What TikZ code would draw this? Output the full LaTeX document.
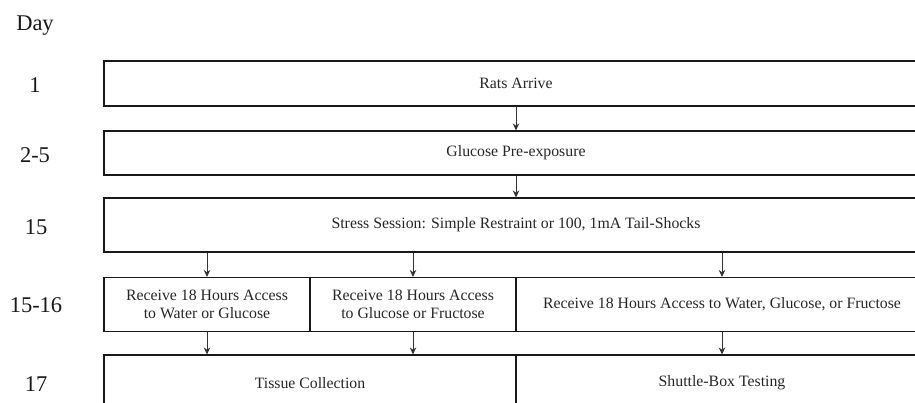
\documentclass[tikz,border=0pt]{standalone}
\usepackage{fontspec}
\setmainfont{Liberation Serif}
\usetikzlibrary{arrows.meta}
\begin{document}
\begin{tikzpicture}[x=1pt,y=-1pt,
  daylbl/.style={font=\fontsize{22.5}{24}\selectfont, text=black!90},
  stagebox/.style={draw=black!90, line width=1.1pt, rectangle, inner sep=0pt,
    font=\fontsize{15.8}{18.5}\selectfont, text=black!85, align=center},
  flow/.style={draw=black!80, line width=0.8pt, -{Stealth[length=7pt,width=6.5pt]}}]
\useasboundingbox (0,0) rectangle (915,403);
\clip (0,0) rectangle (915,403);
% day labels
\node[daylbl] (d0) at (35,26) {Day};
\node[daylbl] (d1) at (35,85) {1};
\node[daylbl] (d2) at (35,155) {2-5};
\node[daylbl] (d3) at (36,227) {15};
\node[daylbl] (d4) at (36,305) {15-16};
\node[daylbl] (d5) at (36,384) {17};
% boxes
\node[stagebox, minimum width=824pt, minimum height=45pt] (r1) at (516,83.5) {Rats Arrive};
\node[stagebox, minimum width=824pt, minimum height=44pt] (r2) at (516,153) {Glucose Pre-exposure};
\node[stagebox, minimum width=824pt, minimum height=54pt] (r3) at (516,225) {Stress Session: Simple Restraint or 100, 1mA Tail-Shocks};
\node[stagebox, minimum width=206pt, minimum height=54pt] (r4a) at (207,304.5) {Receive 18 Hours Access\\to Water or Glucose};
\node[stagebox, minimum width=206pt, minimum height=54pt] (r4b) at (413,304.5) {Receive 18 Hours Access\\to Glucose or Fructose};
\node[stagebox, minimum width=412pt, minimum height=54pt] (r4c) at (722,304.5) {Receive 18 Hours Access to Water, Glucose, or Fructose};
\node[stagebox, minimum width=412pt, minimum height=56pt] (r5a) at (310,383) {Tissue Collection};
\node[stagebox, minimum width=412pt, minimum height=56pt] (r5b) at (722,383) {Shuttle-Box Testing};
% arrows
\draw[flow] (r1) -- (r2);
\draw[flow] (r2) -- (r3);
\draw[flow] (r3.south -| r4a) -- (r4a);
\draw[flow] (r3.south -| r4b) -- (r4b);
\draw[flow] (r3.south -| r4c) -- (r4c);
\draw[flow] (r4a) -- (r4a |- r5a.north);
\draw[flow] (r4b) -- (r4b |- r5a.north);
\draw[flow] (r4c) -- (r5b);
\end{tikzpicture}
\end{document}
